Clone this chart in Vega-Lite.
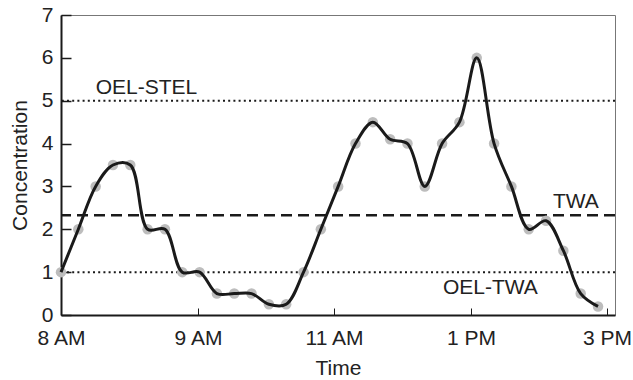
{
  "$schema": "https://vega.github.io/schema/vega-lite/v6.json",
  "autosize": {"type": "none"},
  "padding": {"left": 61, "top": 15, "right": 18, "bottom": 65},
  "width": 554,
  "height": 300,
  "background": "white",
  "config": {
    "view": {"stroke": "#777777", "strokeWidth": 1},
    "font": "Liberation Sans",
    "axis": {
      "domainColor": "#1a1a1a",
      "domainWidth": 2,
      "tickColor": "#1a1a1a",
      "labelColor": "#222222",
      "titleColor": "#222222",
      "labelFontSize": 21,
      "titleFontSize": 21,
      "titleFontWeight": "normal",
      "grid": false
    }
  },
  "datasets": {
    "samples": [
      {"i": 0, "concentration": 1},
      {"i": 1, "concentration": 2},
      {"i": 2, "concentration": 3},
      {"i": 3, "concentration": 3.5},
      {"i": 4, "concentration": 3.5},
      {"i": 5, "concentration": 2},
      {"i": 6, "concentration": 2},
      {"i": 7, "concentration": 1},
      {"i": 8, "concentration": 1},
      {"i": 9, "concentration": 0.5},
      {"i": 10, "concentration": 0.5},
      {"i": 11, "concentration": 0.5},
      {"i": 12, "concentration": 0.25},
      {"i": 13, "concentration": 0.25},
      {"i": 14, "concentration": 1},
      {"i": 15, "concentration": 2},
      {"i": 16, "concentration": 3},
      {"i": 17, "concentration": 4},
      {"i": 18, "concentration": 4.5},
      {"i": 19, "concentration": 4.1},
      {"i": 20, "concentration": 4},
      {"i": 21, "concentration": 3},
      {"i": 22, "concentration": 4},
      {"i": 23, "concentration": 4.5},
      {"i": 24, "concentration": 6},
      {"i": 25, "concentration": 4},
      {"i": 26, "concentration": 3},
      {"i": 27, "concentration": 2},
      {"i": 28, "concentration": 2.2},
      {"i": 29, "concentration": 1.5},
      {"i": 30, "concentration": 0.5},
      {"i": 31, "concentration": 0.2}
    ],
    "limits": [
      {"limit": "OEL-STEL", "value": 5, "label_at": 2},
      {"limit": "OEL-TWA", "value": 1, "label_at": 22.05},
      {"limit": "TWA", "value": 2.33, "label_at": 28.4}
    ]
  },
  "encoding": {
    "x": {
      "field": "i",
      "type": "quantitative",
      "scale": {"domain": [0, 31.98], "nice": false, "zero": false},
      "axis": {
        "title": "Time",
        "values": [0, 7.91, 15.76, 23.67, 31.52],
        "labelExpr": "datum.value < 1 ? '8 AM' : datum.value < 10 ? '9 AM' : datum.value < 20 ? '11 AM' : datum.value < 28 ? '1 PM' : '3 PM'",
        "tickSize": -7,
        "tickWidth": 1,
        "labelPadding": 19,
        "labelFlush": false,
        "labelOverlap": false,
        "titleY": 59,
        "titleBaseline": "alphabetic"
      }
    },
    "y": {
      "field": "concentration",
      "type": "quantitative",
      "scale": {"domain": [0, 7], "nice": false},
      "axis": {
        "title": "Concentration",
        "values": [0, 1, 2, 3, 4, 5, 6, 7],
        "tickSize": -10,
        "tickWidth": 1.5,
        "labelPadding": 18,
        "titleX": -35,
        "titleBaseline": "alphabetic"
      }
    }
  },
  "layer": [
    {
      "data": {"name": "limits"},
      "transform": [{"filter": "datum.limit !== 'TWA'"}],
      "mark": {"type": "rule", "color": "#1a1a1a", "strokeWidth": 2, "strokeDash": [2, 3.2]},
      "encoding": {"x": null, "y": {"field": "value", "type": "quantitative"}}
    },
    {
      "data": {"name": "limits"},
      "transform": [{"filter": "datum.limit === 'TWA'"}],
      "mark": {"type": "rule", "color": "#1a1a1a", "strokeWidth": 2.5, "strokeDash": [11, 6]},
      "encoding": {"x": null, "y": {"field": "value", "type": "quantitative"}}
    },
    {
      "data": {"name": "limits"},
      "transform": [{"filter": "datum.limit !== 'OEL-TWA'"}],
      "mark": {"type": "text", "align": "left", "baseline": "middle", "fontSize": 21, "color": "#222222", "dy": -13},
      "encoding": {
        "x": {"field": "label_at", "type": "quantitative"},
        "y": {"field": "value", "type": "quantitative"},
        "text": {"field": "limit"}
      }
    },
    {
      "data": {"name": "limits"},
      "transform": [{"filter": "datum.limit === 'OEL-TWA'"}],
      "mark": {"type": "text", "align": "left", "baseline": "middle", "fontSize": 21, "color": "#222222", "dy": 16},
      "encoding": {
        "x": {"field": "label_at", "type": "quantitative"},
        "y": {"field": "value", "type": "quantitative"},
        "text": {"field": "limit"}
      }
    },
    {
      "data": {"name": "samples"},
      "mark": {"type": "point", "filled": true, "size": 110, "color": "#bdbdbd", "opacity": 1}
    },
    {
      "data": {"name": "samples"},
      "mark": {"type": "line", "interpolate": "catmull-rom", "color": "#1a1a1a", "strokeWidth": 3}
    }
  ]
}
